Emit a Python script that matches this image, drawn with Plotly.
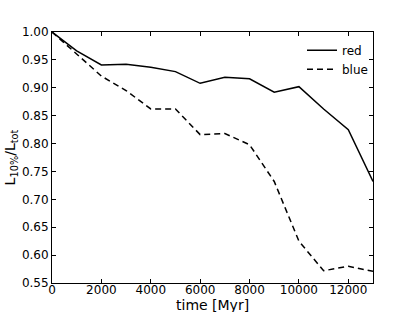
import plotly.graph_objects as go

time = [0, 1000, 2000, 3000, 4000, 5000, 6000, 7000, 8000, 9000, 10000, 11000, 12000, 13000]
red = [1.0, 0.966, 0.941, 0.942, 0.937, 0.929, 0.908, 0.919, 0.916, 0.892, 0.902, 0.862, 0.825, 0.732]
blue = [1.0, 0.960, 0.921, 0.895, 0.862, 0.862, 0.816, 0.818, 0.798, 0.732, 0.625, 0.572, 0.580, 0.571]
xticks = [0, 2000, 4000, 6000, 8000, 10000, 12000]
yticks = [0.55, 0.6, 0.65, 0.7, 0.75, 0.8, 0.85, 0.9, 0.95, 1.0]

fig = go.Figure()
fig.add_trace(go.Scatter(x=time, y=red, mode="lines", name="red",
                         line=dict(color="black", width=1.5, dash="solid")))
fig.add_trace(go.Scatter(x=time, y=blue, mode="lines", name="blue",
                         line=dict(color="black", width=1.5, dash="6px,4px")))

font = dict(family="DejaVu Sans", color="black", size=12)
axis_common = dict(showgrid=False, zeroline=False, showline=True, linecolor="black",
                   linewidth=1, mirror="ticks", ticks="inside", ticklen=4,
                   tickcolor="black", tickfont=font, automargin=False)

fig.update_layout(
    width=415, height=312,
    margin=dict(l=52, r=42, t=32, b=29),
    paper_bgcolor="white", plot_bgcolor="white",
    font=font,
    xaxis=dict(range=[0, 13000], tickvals=xticks,
               ticktext=[str(v) for v in xticks], ticklabelstandoff=-4,
               **axis_common),
    yaxis=dict(range=[0.55, 1.0], tickvals=yticks,
               ticktext=["%.2f" % v for v in yticks],
               title=dict(text="L<sub>10%</sub>/L<sub>tot</sub>", font=dict(family="DejaVu Sans", size=14, color="black"), standoff=2),
               **axis_common),
    legend=dict(x=1.0, y=0.985, xanchor="right", yanchor="top", bgcolor="rgba(0,0,0,0)",
                borderwidth=0, font=dict(family="DejaVu Sans", size=12, color="black"),
                tracegroupgap=0),
    showlegend=True,
    annotations=[dict(text="time [Myr]", xref="paper", yref="paper", x=0.5, y=0,
                      xanchor="center", yanchor="middle", yshift=-22, showarrow=False,
                      font=dict(family="DejaVu Sans", size=14, color="black"))],
)

fig.write_html("out.html", config={"displayModeBar": False},
               post_script="document.body.style.margin='0';document.body.style.overflow='hidden';")
